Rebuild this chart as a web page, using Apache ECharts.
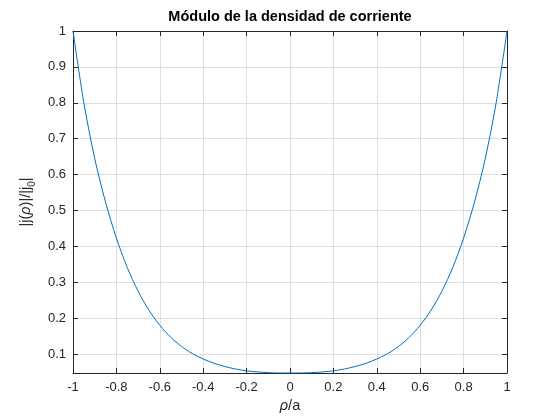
<!DOCTYPE html>
<html>
<head>
<meta charset="utf-8">
<script src="https://cdn.jsdelivr.net/npm/echarts@6/dist/echarts.min.js"></script>
<style>html,body{margin:0;padding:0;background:#fff;}#c{width:560px;height:420px;}</style>
</head>
<body>
<div id="c"></div>
<script>
const rho = [-1, -0.95, -0.9, -0.85, -0.8, -0.75, -0.7, -0.65, -0.6, -0.55, -0.5, -0.45, -0.4, -0.35, -0.3, -0.25, -0.2, -0.15, -0.1, -0.05,
  0, 0.05, 0.1, 0.15, 0.2, 0.25, 0.3, 0.35, 0.4, 0.45, 0.5, 0.55, 0.6, 0.65, 0.7, 0.75, 0.8, 0.85, 0.9, 0.95, 1];
const jmod = [1.000, 0.800, 0.645, 0.523, 0.423, 0.341, 0.275, 0.222, 0.180, 0.147, 0.121, 0.101, 0.086, 0.074, 0.065, 0.058, 0.053, 0.050, 0.048, 0.047,
  0.047, 0.047, 0.048, 0.050, 0.053, 0.058, 0.065, 0.074, 0.086, 0.101, 0.121, 0.147, 0.180, 0.222, 0.275, 0.341, 0.423, 0.523, 0.645, 0.800, 1.000];
const yTicks = [0.1, 0.2, 0.3, 0.4, 0.5, 0.6, 0.7, 0.8, 0.9, 1];
const yMin = 0.047;
const titleText = 'Módulo de la densidad de corriente';

const FONT = '"Liberation Sans", Arial, Helvetica, sans-serif';
const AX = '#262626';
const GRID = '#dfdfdf';

const chart = echarts.init(document.getElementById('c'), null, {renderer: 'canvas'});
const pts = rho.map((r, i) => [r, jmod[i]]);

chart.setOption({
  animation: false,
  backgroundColor: '#ffffff',
  title: {
    text: titleText,
    left: 290, top: 9, textAlign: 'center', padding: 0,
    textStyle: {fontFamily: FONT, fontSize: 14.5, fontWeight: 'bold', color: '#000'}
  },
  grid: {left: 73, right: 53, top: 31, bottom: 47, containLabel: false},
  xAxis: [{
    type: 'value', min: -1, max: 1, interval: 0.2, position: 'bottom',
    axisLine: {show: true, onZero: false, lineStyle: {color: AX, width: 1}},
    axisTick: {show: true, inside: true, length: 5, lineStyle: {color: AX}},
    splitLine: {show: true, lineStyle: {color: GRID, width: 1}},
    axisLabel: {color: AX, fontFamily: FONT, fontSize: 13, margin: 8,
      formatter: v => String(Math.round(v * 10) / 10)},
    name: '{i|ρ}{n|/a}', nameLocation: 'middle', nameGap: 24,
    nameTextStyle: {fontFamily: FONT, fontSize: 14.5, color: AX,
      rich: {i: {fontStyle: 'italic', fontFamily: FONT, fontSize: 14.5, color: AX},
             n: {fontFamily: FONT, fontSize: 14.5, color: AX}}}
  }, {
    type: 'value', min: -1, max: 1, interval: 0.2, position: 'top',
    axisLine: {show: true, onZero: false, lineStyle: {color: AX, width: 1}},
    axisTick: {show: true, inside: true, length: 5, lineStyle: {color: AX}},
    splitLine: {show: false}, axisLabel: {show: false}
  }],
  yAxis: [{
    type: 'value', min: yMin, max: 1, position: 'left',
    axisLine: {show: true, onZero: false, lineStyle: {color: AX, width: 1}},
    axisTick: {show: true, inside: true, length: 5, lineStyle: {color: AX}, customValues: yTicks},
    splitLine: {show: true, lineStyle: {color: GRID, width: 1}},
    axisLabel: {color: AX, fontFamily: FONT, fontSize: 13, margin: 7, customValues: yTicks,
      formatter: v => String(Math.round(v * 10) / 10)},
    name: '{n|\u007Cj(}{i|ρ}{n|)\u007C/\u007Cj}{s|0}{n|\u007C}', nameLocation: 'middle', nameGap: 34, nameRotate: 90,
    nameTextStyle: {fontFamily: FONT, fontSize: 14.5, color: AX,
      rich: {n: {fontFamily: FONT, fontSize: 14.5, color: AX, lineHeight: 18, verticalAlign: 'bottom'},
             i: {fontFamily: FONT, fontSize: 14.5, color: AX, fontStyle: 'italic', lineHeight: 18, verticalAlign: 'bottom'},
             s: {fontFamily: FONT, fontSize: 10, color: AX, lineHeight: 18, verticalAlign: 'bottom', padding: [0, 0, -4, 0]}}}
  }, {
    type: 'value', min: yMin, max: 1, position: 'right',
    axisLine: {show: true, onZero: false, lineStyle: {color: AX, width: 1}},
    axisTick: {show: true, inside: true, length: 5, lineStyle: {color: AX}, customValues: yTicks},
    splitLine: {show: false}, axisLabel: {show: false}
  }],
  series: [{
    type: 'line', data: pts, xAxisIndex: 0, yAxisIndex: 0,
    smooth: 0.3, showSymbol: false, symbol: 'none',
    lineStyle: {color: '#0072BD', width: 1}
  }]
});
</script>
</body>
</html>
